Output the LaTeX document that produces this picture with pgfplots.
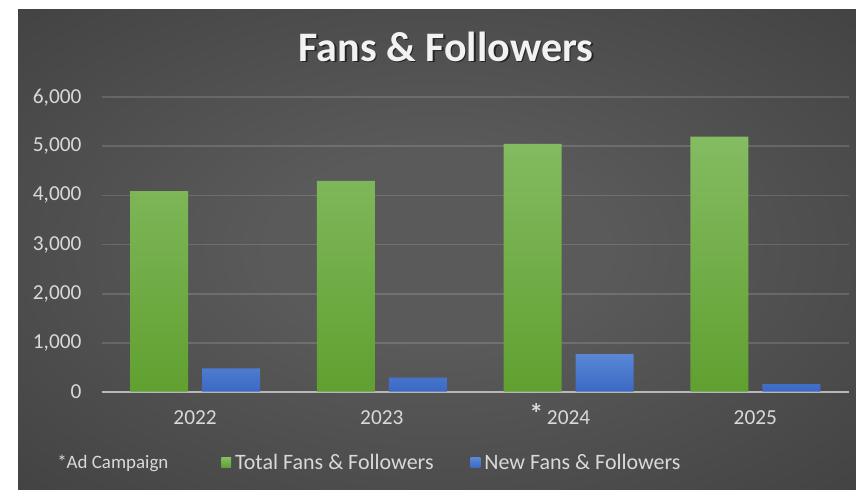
\documentclass[border=0pt]{standalone}
\usepackage{pgfplots}
\pgfplotsset{compat=1.18}
\usepackage{fontspec}
\setmainfont{Carlito}
\definecolor{bgin}{RGB}{90,90,90}
\definecolor{bgout}{RGB}{34,34,34}
\definecolor{lbl}{RGB}{217,217,217}
\definecolor{gtop}{RGB}{132,188,98}
\definecolor{gbot}{RGB}{96,160,48}
\definecolor{btop}{RGB}{88,136,214}
\definecolor{bbot}{RGB}{60,104,196}
\pgfdeclareradialshading{bgshade}{\pgfpoint{0bp}{0bp}}{color(0bp)=(bgin); color(10bp)=(bgin); color(72bp)=(bgout)}
\begin{document}
\begin{tikzpicture}[x=0.75pt,y=0.75pt]
\fill[white] (0,0) rectangle (856,-489);
\shade[shading=bgshade] (18,-9) rectangle (856,-489);
\node[font=\bfseries\fontsize{31.5}{36}\selectfont, text=black, opacity=0.55] at (447.5,-48) {Fans \& Followers};
\node[font=\bfseries\fontsize{31.5}{36}\selectfont, text=white!95!black] at (446,-46.5) {Fans \& Followers};
\node[anchor=west, inner sep=0pt, font=\fontsize{14.2}{17}\selectfont, text=lbl] at (57,-463) {*Ad Campaign};
\begin{axis}[
  at={(76.275pt,-293.775pt)}, anchor=south west,
  scale only axis, width=560.25pt, height=220.8pt,
  xmin=-0.5, xmax=3.5, ymin=0, ymax=6000,
  xtick={0,1,2,3},
  xticklabels={2022,2023,{\llap{\smash{\raisebox{1pt}{\fontsize{21}{21}\selectfont\bfseries *}}\,}2024},2025},
  ytick={1000,2000,3000,4000,5000,6000},
  extra y ticks={0},
  extra y tick style={grid style={draw=lbl!85!black, opacity=1, line width=1.6pt}},
  ymajorgrids,
  grid style={draw=white, opacity=0.14, line width=1.4pt},
  axis line style={draw=none},
  major tick length=0pt,
  scaled y ticks=false,
  tick label style={font=\fontsize{16}{19}\selectfont, text=lbl},
  yticklabel style={/pgf/number format/1000 sep={,}, /pgf/number format/assume math mode=true, inner sep=0pt, xshift=-15pt},
  xticklabel style={inner sep=0pt, yshift=-14pt},
  ybar=10.5pt, bar width=43.5pt,
  clip=false,
  legend columns=2,
  legend style={at={(0.16,-0.241)}, anchor=west, draw=none, fill=none, inner sep=0pt,
    font=\fontsize{16.5}{19}\selectfont, text=lbl,
    /tikz/every even column/.append style={column sep=24.75pt},
    nodes={inner xsep=3pt, inner ysep=0pt}},
  legend image code/.code={\fill[#1] (0pt,-3.6pt) rectangle (7.2pt,3.6pt);},
]
\addplot[draw=none, top color=gtop, bottom color=gbot] coordinates {(0,4090) (1,4295) (2,5050) (3,5200)};
\addlegendentry{Total Fans \& Followers}
\addplot[draw=none, top color=btop, bottom color=bbot] coordinates {(0,477) (1,285) (2,768) (3,156)};
\addlegendentry{New Fans \& Followers}
\end{axis}
\end{tikzpicture}
\end{document}
